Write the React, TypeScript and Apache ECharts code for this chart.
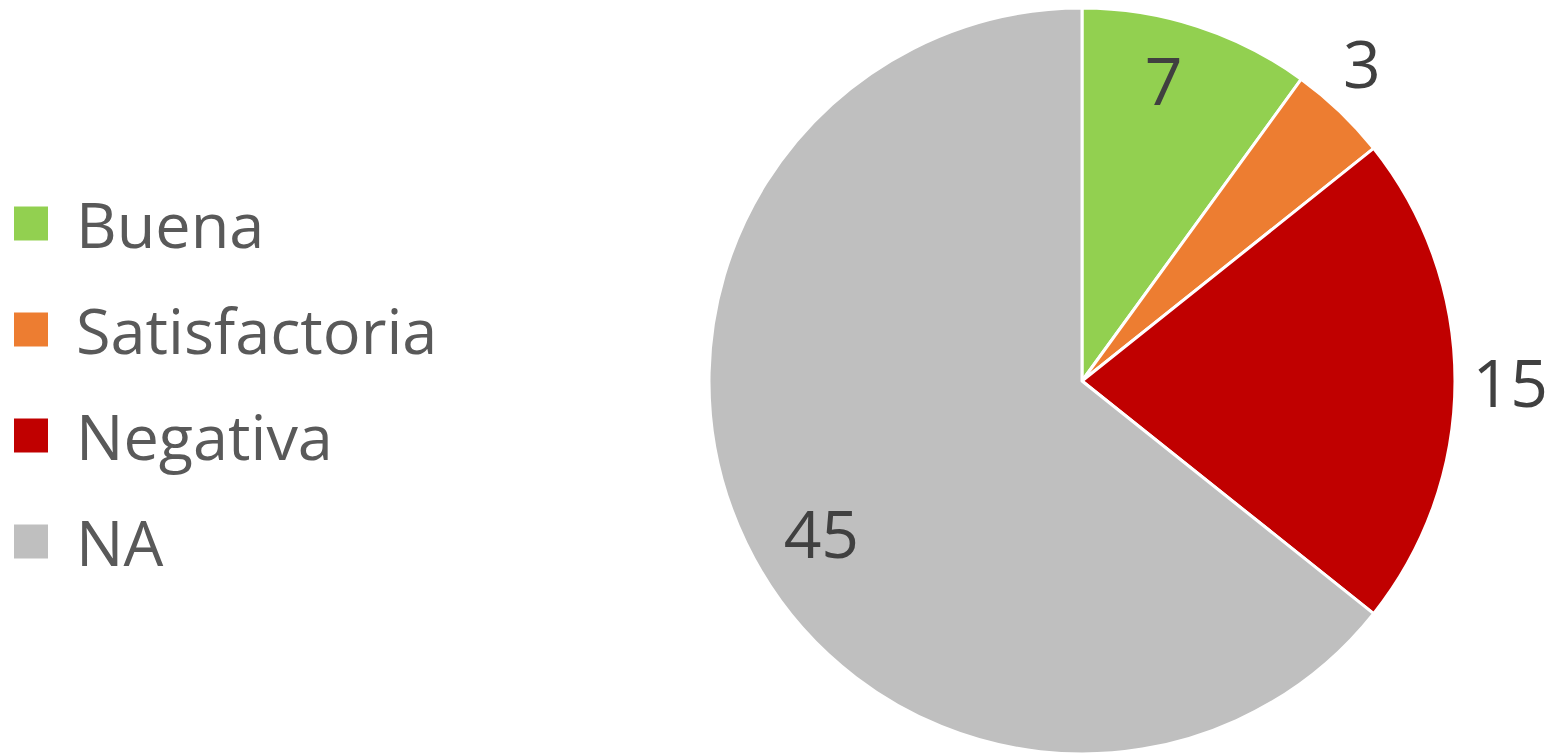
import React, { useEffect, useRef } from "react";
import * as echarts from "echarts";

const categories = ["Buena", "Satisfactoria", "Negativa", "NA"];
const values = [7, 3, 15, 45];
const colors = ["#92D050", "#ED7D31", "#C00000", "#BFBFBF"];
const insideLabel = [true, false, false, true];

export default function App() {
  const ref = useRef<HTMLDivElement>(null);
  useEffect(() => {
    if (!ref.current) return;
    const chart = echarts.init(ref.current, undefined, { renderer: "svg" });
    const font = "'Open Sans', sans-serif";
    const R = 373;
    const center = [1082, 381];
    // label nudges to mimic the reference's label placement
    const pads = [
      [0, 30, 0, 0],
      [0, 32, 0, 0],
      [0, 0, 0, 0],
      [0, 0, 0, 42],
    ];
    const fmts = ["{c}\n", "{c}\n", "{c}", "\n{c}"];
    const lhs = [10, 18, 66, 30];
    const base = categories.map((c, i) => ({
      name: c,
      value: values[i],
      itemStyle: { color: colors[i] },
    }));
    const labelData = (inner: boolean) =>
      categories.map((c, i) => ({
        name: c,
        value: values[i],
        label: {
          show: insideLabel[i] === inner,
          padding: pads[i],
          formatter: fmts[i],
          lineHeight: lhs[i],
        },
      }));
    const labelStyle = {
      position: "inside",
      fontFamily: font,
      fontSize: 66,
      color: "#404040",
    };
    chart.setOption({
      animation: false,
      legend: {
        orient: "vertical",
        left: 7,
        top: 187,
        itemWidth: 36,
        itemHeight: 36,
        itemGap: 43,
        icon: "rect",
        data: categories,
        textStyle: {
          fontFamily: font,
          fontSize: 63,
          color: "#595959",
          padding: [0, 0, 0, 22],
        },
      },
      series: [
        {
          type: "pie",
          center,
          radius: [0, R],
          startAngle: 90,
          clockwise: true,
          silent: true,
          label: { show: false },
          labelLine: { show: false },
          itemStyle: { borderColor: "#ffffff", borderWidth: 3 },
          data: base,
        },
        {
          type: "pie",
          center,
          radius: [0, R * 2 * 0.83],
          startAngle: 90,
          silent: true,
          legendHoverLink: false,
          itemStyle: { color: "rgba(0,0,0,0)" },
          label: labelStyle,
          labelLine: { show: false },
          data: labelData(true),
        },
        {
          type: "pie",
          center,
          radius: [0, R * 2 * 1.14],
          startAngle: 90,
          silent: true,
          legendHoverLink: false,
          itemStyle: { color: "rgba(0,0,0,0)" },
          label: labelStyle,
          labelLine: { show: false },
          data: labelData(false),
        },
      ],
    });
    return () => chart.dispose();
  }, []);
  return (
    <div
      ref={ref}
      style={{ position: "absolute", left: 0, top: 0, width: 1552, height: 753 }}
    />
  );
}
